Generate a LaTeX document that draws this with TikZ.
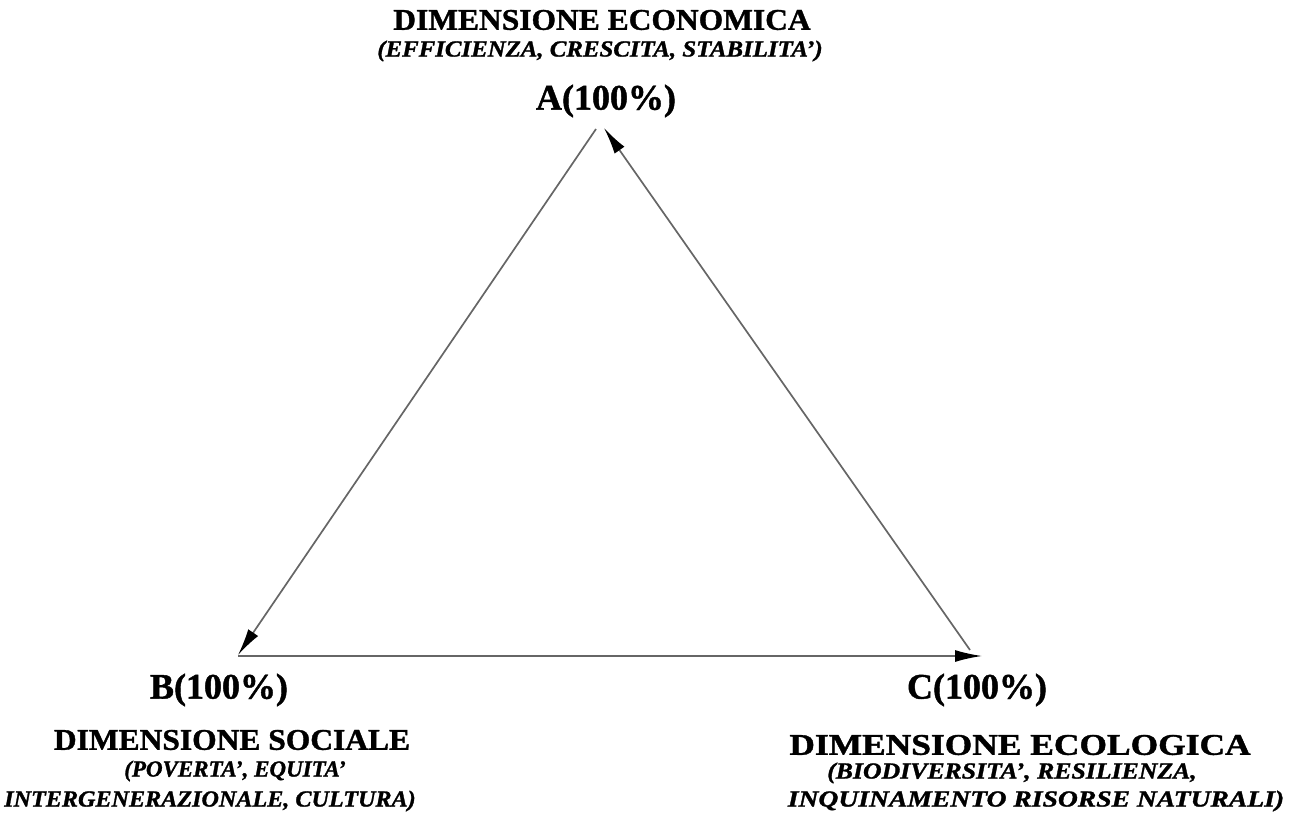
\documentclass[tikz,border=0pt]{standalone}
\usepackage{fontspec}
\usepackage{graphicx}
\setmainfont{Liberation Serif}[BoldFeatures={FakeBold=1.2},BoldItalicFeatures={FakeBold=1.2}]
\usetikzlibrary{arrows.meta}
\newcommand{\hs}[2]{\scalebox{#1}[1]{#2}}
\tikzset{
  head/.style={font=\bfseries\fontsize{30}{32}\selectfont, inner sep=0pt},
  sub/.style={font=\bfseries\itshape\fontsize{23}{25}\selectfont, inner sep=0pt},
  vlabel/.style={font=\bfseries\fontsize{36}{38}\selectfont, inner sep=0pt},
  edge/.style={draw=black!60, line width=1.7pt, -{Latex[length=27pt,width=12pt,color=black]}}
}
\begin{document}
\begin{tikzpicture}[x=1pt,y=-1pt]
\useasboundingbox (0,0) rectangle (1295,818);
\coordinate (A) at (600,127);
\coordinate (B) at (238,655);
\coordinate (C) at (982,656);
\coordinate (Bs) at (238,656);
\coordinate (Cs) at (970,650);
\coordinate (As) at (596,129);
\coordinate (Ae) at (604,128);
\draw[edge] (As) -- (B);
\draw[edge] (Bs) -- (C);
\draw[edge] (Cs) -- (Ae);
\node[head] (econ) at (602,20) {\hs{1.05}{DIMENSIONE ECONOMICA}};
\node[sub] (econsub) at (600,51) {\hs{1.08}{(EFFICIENZA, CRESCITA, STABILITA')}};
\node[vlabel] (la) at (606,101) {A(100\%)};
\node[vlabel] (lb) at (219,690) {B(100\%)};
\node[vlabel] (lc) at (977,690) {C(100\%)};
\node[head] (soc) at (232,740) {\hs{1.05}{DIMENSIONE SOCIALE}};
\node[sub] (socsub1) at (235,771) {(POVERTA', EQUITA'};
\node[sub] (socsub2) at (210,801) {\hs{1.05}{INTERGENERAZIONALE, CULTURA)}};
\node[head] (eco) at (1020,745) {\hs{1.18}{DIMENSIONE ECOLOGICA}};
\node[sub] (ecosub1) at (1012,773) {\hs{1.12}{(BIODIVERSITA', RESILIENZA,}};
\node[sub] (ecosub2) at (1036,801) {\hs{1.2}{INQUINAMENTO RISORSE NATURALI)}};
\end{tikzpicture}
\end{document}
